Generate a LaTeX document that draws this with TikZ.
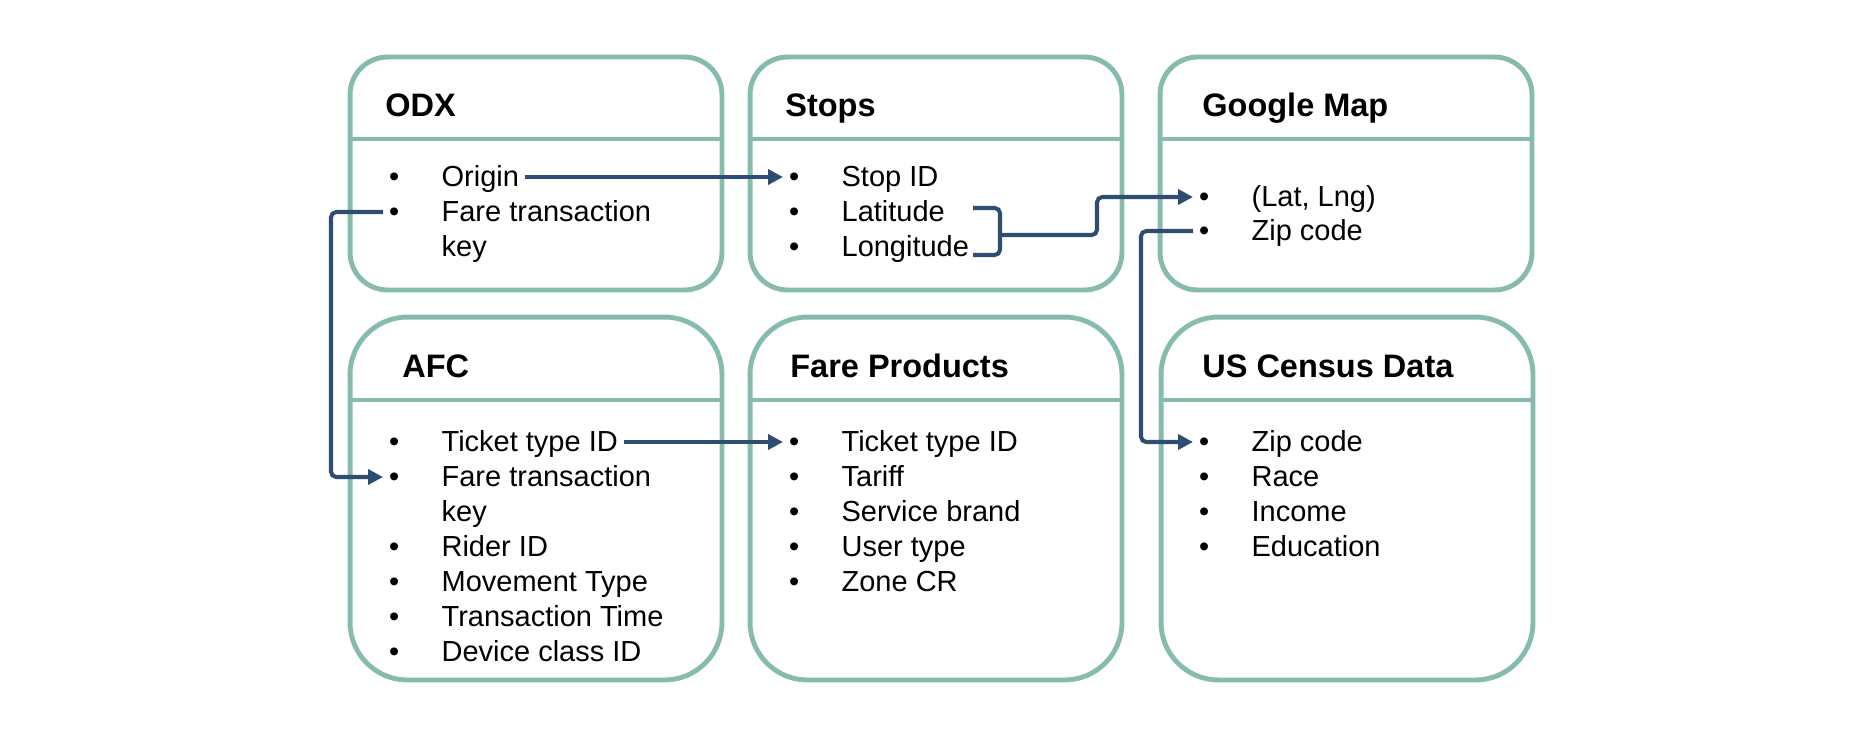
\documentclass[tikz,border=0pt]{standalone}
\usepackage{fontspec}
\setmainfont{Liberation Sans}
\definecolor{panelteal}{RGB}{134, 188, 175}
\definecolor{linkblue}{RGB}{46, 77, 115}
\usetikzlibrary{arrows.meta}

\newcommand{\itm}[1]{\makebox[1.05cm][l]{\textbullet}#1}

\begin{document}
\begin{tikzpicture}[x=0.02cm, y=-0.02cm,
  panel/.style={draw=panelteal, line width=2.8pt, rounded corners=#1, minimum width=7.44cm, outer sep=0pt, inner sep=0pt},
  panel/.default=0.75cm,
  rule/.style={draw=panelteal, line width=1.8pt},
  head/.style={anchor=west, inner sep=0pt, font=\fontsize{18.5}{22}\selectfont\bfseries, text height=13pt, text depth=0pt},
  item/.style={anchor=west, inner sep=0pt, outer sep=3.5pt, font=\fontsize{16.5}{20}\selectfont, text height=11.8pt, text depth=1.3pt},
  link/.style={draw=linkblue, line width=2.3pt, rounded corners=3pt},
  >={Triangle[length=8.5pt, width=8.5pt]}
]
  \useasboundingbox (0,0) rectangle (1868,731);

  % ODX
  \node[panel, minimum height=4.66cm] (odx) at (536,173.5) {};
  \draw[rule] ([yshift=-1.64cm]odx.north west) -- ([yshift=-1.64cm]odx.north east);
  \node[head] (odxhead) at (385,105) {ODX};
  \node[item] (origin) at (383,177) {\itm{Origin}};
  \node[item] (odxfare) at (383,212) {\itm{Fare transaction}};
  \node[item] (odxkey) at (435.5,247) {key};

  % Stops
  \node[panel, minimum height=4.66cm] (stops) at (936,173.5) {};
  \draw[rule] ([yshift=-1.64cm]stops.north west) -- ([yshift=-1.64cm]stops.north east);
  \node[head] (stopshead) at (785,105) {Stops};
  \node[item] (stopid) at (783,177) {\itm{Stop ID}};
  \node[item] (lat) at (783,212) {\itm{Latitude}};
  \node[item] (lng) at (783,247) {\itm{Longitude}};

  % Google Map
  \node[panel, minimum height=4.66cm] (gmap) at (1346,173.5) {};
  \draw[rule] ([yshift=-1.64cm]gmap.north west) -- ([yshift=-1.64cm]gmap.north east);
  \node[head] (gmaphead) at (1202,105) {Google Map};
  \node[item] (latlng) at (1193,197) {\itm{(Lat, Lng)}};
  \node[item] (gzip) at (1193,231) {\itm{Zip code}};

  % AFC
  \node[panel=1.15cm, minimum height=7.26cm] (afc) at (536,498.5) {};
  \draw[rule] ([yshift=-1.66cm]afc.north west) -- ([yshift=-1.66cm]afc.north east);
  \node[head] (afchead) at (402,366) {AFC};
  \node[item] (afctkt) at (383,442) {\itm{Ticket type ID}};
  \node[item] (afcfare) at (383,477) {\itm{Fare transaction}};
  \node[item] (afckey) at (435.5,512) {key};
  \node[item] (rider) at (383,547) {\itm{Rider ID}};
  \node[item] (move) at (383,582) {\itm{Movement Type}};
  \node[item] (ttime) at (383,617) {\itm{Transaction Time}};
  \node[item] (device) at (383,652) {\itm{Device class ID}};

  % Fare Products
  \node[panel=1.15cm, minimum height=7.26cm] (fare) at (936,498.5) {};
  \draw[rule] ([yshift=-1.66cm]fare.north west) -- ([yshift=-1.66cm]fare.north east);
  \node[head] (farehead) at (790,366) {Fare Products};
  \node[item] (fptkt) at (783,442) {\itm{Ticket type ID}};
  \node[item] (tariff) at (783,477) {\itm{Tariff}};
  \node[item] (brand) at (783,512) {\itm{Service brand}};
  \node[item] (user) at (783,547) {\itm{User type}};
  \node[item] (zone) at (783,582) {\itm{Zone CR}};

  % US Census Data
  \node[panel=1.15cm, minimum height=7.26cm] (census) at (1347,498.5) {};
  \draw[rule] ([yshift=-1.66cm]census.north west) -- ([yshift=-1.66cm]census.north east);
  \node[head] (censushead) at (1202,366) {US Census Data};
  \node[item] (czip) at (1193,442) {\itm{Zip code}};
  \node[item] (race) at (1193,477) {\itm{Race}};
  \node[item] (income) at (1193,512) {\itm{Income}};
  \node[item] (edu) at (1193,547) {\itm{Education}};

  % Links
  \draw[link, ->] (origin) -- (stopid);
  \draw[link, ->] (odxfare.west) -- ++(-52,0) |- (afcfare.west);
  \draw[link, ->] (afctkt) -- (fptkt);

  \coordinate (brtop) at (973,208);
  \coordinate (brbot) at (973,255);
  \coordinate (brmid) at (1000,235);
  \draw[link] (brtop) -- ++(27,0) -- ++(0,47) -- (brbot);
  \draw[link, ->] (brmid) -- ++(97,0) |- (latlng.west);

  \draw[link, ->] (gzip.west) -- ++(-52,0) |- (czip.west);
\end{tikzpicture}
\end{document}
